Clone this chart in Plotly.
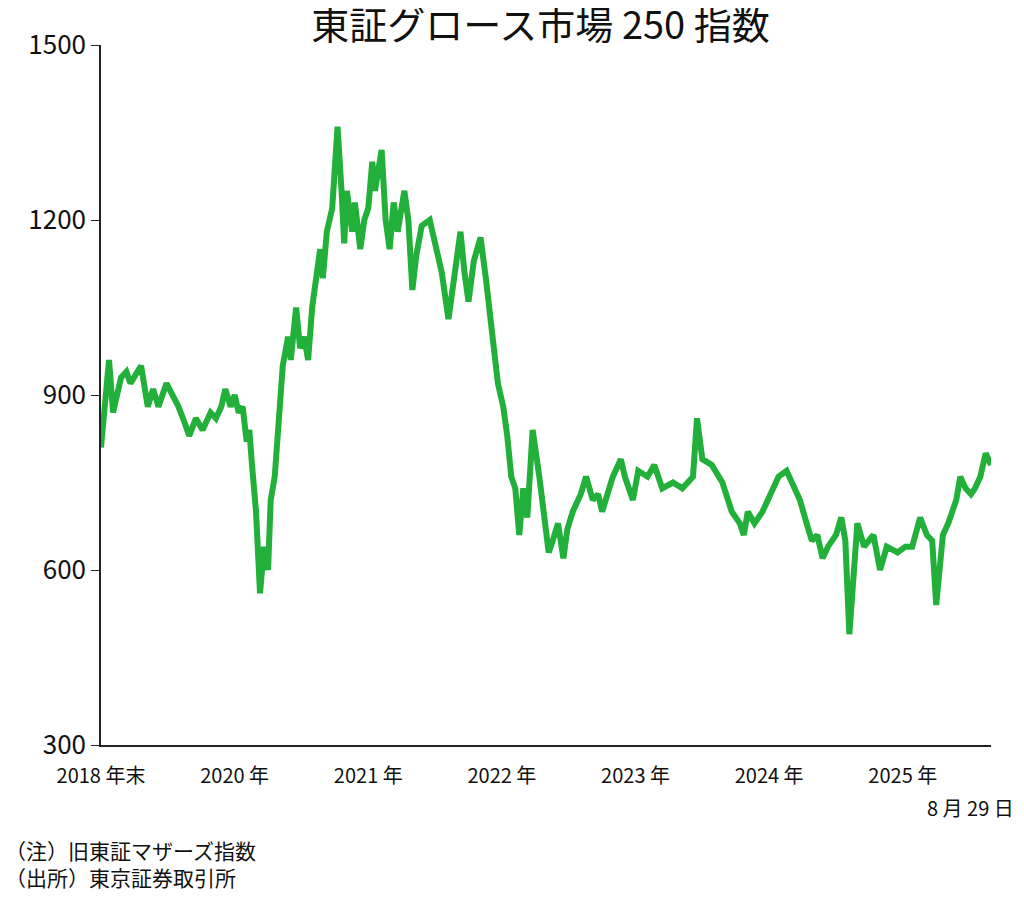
import plotly.graph_objects as go

years = [2019.00,2019.03,2019.06,2019.09,2019.15,2019.19,2019.22,2019.30,2019.35,2019.39,2019.43,2019.49,2019.54,2019.58,2019.63,2019.66,2019.71,2019.76,2019.82,2019.86,2019.90,2019.93,2019.97,
2020.00,2020.03,2020.06,2020.09,2020.11,2020.13,2020.16,2020.19,2020.22,2020.25,2020.27,2020.30,2020.33,2020.36,2020.40,2020.42,2020.46,2020.49,2020.52,2020.55,2020.58,2020.61,2020.64,2020.66,2020.69,2020.73,2020.77,2020.80,2020.82,2020.84,2020.88,2020.90,2020.94,2020.97,
2021.00,2021.03,2021.05,2021.10,2021.13,2021.16,2021.19,2021.22,2021.27,2021.30,2021.33,2021.36,2021.40,2021.46,2021.51,2021.55,2021.60,2021.64,2021.69,2021.72,2021.75,2021.79,2021.84,2021.88,2021.93,2021.97,
2022.01,2022.04,2022.07,2022.10,2022.13,2022.16,2022.19,2022.23,2022.28,2022.31,2022.35,2022.38,2022.42,2022.46,2022.49,2022.53,2022.59,2022.63,2022.68,2022.72,2022.75,2022.83,2022.89,2022.92,2022.98,
2023.02,2023.09,2023.14,2023.20,2023.28,2023.35,2023.43,2023.46,2023.50,2023.57,2023.65,2023.72,2023.78,2023.81,2023.84,2023.89,2023.95,
2024.01,2024.07,2024.13,2024.17,2024.23,2024.28,2024.32,2024.36,2024.40,2024.44,2024.50,2024.54,2024.57,2024.60,2024.63,2024.66,2024.71,2024.75,2024.78,2024.83,2024.88,2024.96,
2025.02,2025.07,2025.13,2025.18,2025.22,2025.25,2025.30,2025.34,2025.40,2025.43,2025.47,2025.51,2025.54,2025.58,2025.62,2025.66]
values = [810,900,960,870,930,940,920,950,880,910,880,920,900,880,850,830,860,840,870,860,880,910,880,
900,870,880,820,840,780,700,560,640,600,720,760,860,950,1000,960,1050,980,1000,960,1050,1100,1150,1100,1180,1220,1360,1250,1160,1250,1180,1230,1150,1200,
1220,1300,1250,1320,1200,1150,1230,1180,1250,1200,1080,1140,1190,1200,1150,1110,1030,1100,1180,1110,1060,1130,1170,1100,1000,920,
880,830,760,740,660,740,690,840,760,700,630,650,680,620,670,700,730,760,720,730,700,760,790,760,720,
770,760,780,740,750,740,760,860,790,780,750,700,680,660,700,680,700,
730,760,770,750,720,680,650,660,620,640,660,690,650,490,600,680,640,650,660,600,640,630,
640,640,690,660,650,540,660,680,720,760,740,730,740,760,800,780]

tick_vals = [2019, 2020, 2021, 2022, 2023, 2024, 2025]
tick_text = ["2018 年末", "2020 年", "2021 年", "2022 年", "2023 年", "2024 年", "2025 年"]
y_ticks = [300, 600, 900, 1200, 1500]

font = "Noto Sans CJK JP"
fig = go.Figure(go.Scatter(x=years, y=values, mode="lines",
                           line=dict(color="#22b03a", width=6), hoverinfo="skip"))
fig.update_layout(
    width=1024, height=907, paper_bgcolor="white", plot_bgcolor="white",
    margin=dict(l=93, r=41, t=37, b=170), showlegend=False,
    font=dict(family=font, color="#111"),
    title=dict(text="東証グロース市場 250 指数", x=0.52, xanchor="center", y=0.995, yanchor="top",
               font=dict(size=38, family=font, color="#111")),
    xaxis=dict(range=[2019, 2025.66], tickvals=tick_vals, ticktext=tick_text, showgrid=False,
               showline=True, linecolor="#222", linewidth=1.5, ticks="", zeroline=False,
               ticklabelstandoff=12, tickfont=dict(size=20, family=font)),
    yaxis=dict(range=[300, 1500], tickvals=y_ticks, showgrid=False, showline=True,
               linecolor="#222", linewidth=1.5, ticks="outside", ticklen=8, tickcolor="#222",
               zeroline=False, tickfont=dict(size=26, family=font)),
    annotations=[
        dict(text="8 月 29 日", xref="paper", yref="paper", x=1.0, xshift=25, y=-0.065, xanchor="right",
             yanchor="top", showarrow=False, font=dict(size=20, family=font)),
        dict(text="（注）旧東証マザーズ指数<br>（出所）東京証券取引所", xref="paper", yref="paper",
             x=-0.11, y=-0.125, xanchor="left", yanchor="top", align="left", showarrow=False,
             font=dict(size=21, family=font)),
    ],
)
fig.write_html("out.html")
